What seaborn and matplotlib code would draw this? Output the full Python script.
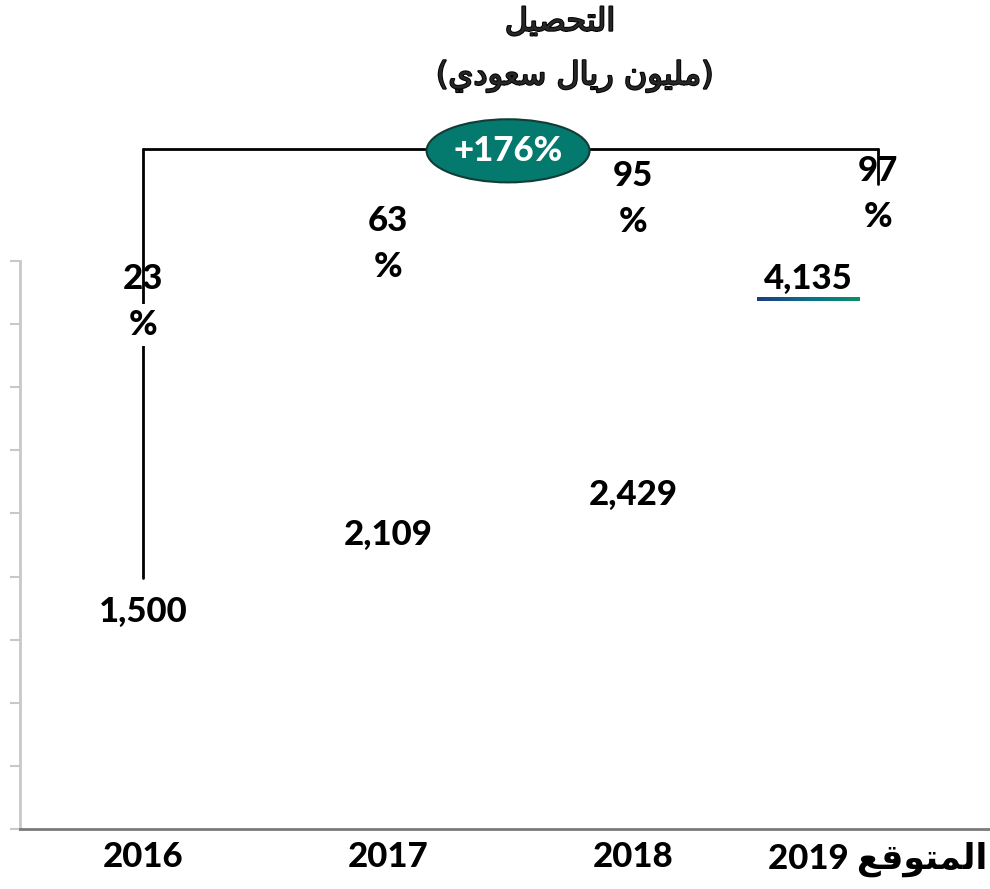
import numpy as np
import matplotlib
matplotlib.use("Agg")
import matplotlib.pyplot as plt
import matplotlib.patheffects as pe
from matplotlib.patches import Ellipse
import seaborn as sns

# data
years = ["2016", "2017", "2018", "2019"]
revenue = [1500, 2109, 2429, 4135]
growth_pct = [23, 63, 95, 97]
total_growth = "+176%"
title_ar = "التحصيل"
unit_ar = "مليون ريال سعودي"
forecast_ar = "المتوقع"

# layout tweaks (not data)
value_dx = [0, 0, 0, -0.285]
pct_y = [4175, 4635, 4992, 5032]

# --- minimal arabic shaping (presentation forms) since matplotlib has no bidi/shaping
FORMS = {
    'ا': ('\uFE8D', '\uFE8E', None, None),
    'ل': ('\uFEDD', '\uFEDE', '\uFEDF', '\uFEE0'),
    'ت': ('\uFE95', '\uFE96', '\uFE97', '\uFE98'),
    'ح': ('\uFEA1', '\uFEA2', '\uFEA3', '\uFEA4'),
    'ص': ('\uFEB9', '\uFEBA', '\uFEBB', '\uFEBC'),
    'ي': ('\uFEF1', '\uFEF2', '\uFEF3', '\uFEF4'),
    'م': ('\uFEE1', '\uFEE2', '\uFEE3', '\uFEE4'),
    'و': ('\uFEED', '\uFEEE', None, None),
    'ن': ('\uFEE5', '\uFEE6', '\uFEE7', '\uFEE8'),
    'ر': ('\uFEAD', '\uFEAE', None, None),
    'س': ('\uFEB1', '\uFEB2', '\uFEB3', '\uFEB4'),
    'ع': ('\uFEC9', '\uFECA', '\uFECB', '\uFECC'),
    'د': ('\uFEA9', '\uFEAA', None, None),
    'ق': ('\uFED5', '\uFED6', '\uFED7', '\uFED8'),
}


def rtl(s):
    out = []
    for i, ch in enumerate(s):
        if ch not in FORMS:
            out.append(ch)
            continue
        prev = s[i - 1] if i > 0 else None
        nxt = s[i + 1] if i + 1 < len(s) else None
        join_prev = prev in FORMS and FORMS[prev][2] is not None
        join_next = nxt in FORMS and FORMS[ch][2] is not None
        iso, fin, ini, med = FORMS[ch]
        if join_prev and join_next:
            out.append(med)
        elif join_prev:
            out.append(fin)
        elif join_next:
            out.append(ini)
        else:
            out.append(iso)
    return ''.join(reversed(out))


sns.set_theme(style="white")
plt.rcParams['font.family'] = ['Lato', 'DejaVu Sans']
FS = 25

fig = plt.figure(figsize=(9.9, 8.89), dpi=100)
ax = fig.add_axes([0.0202, 0.0675, 0.9798, 0.6389])

sns.barplot(x=years, y=revenue, color="white", ax=ax, width=0.42)

ax.set_xlim(-0.502, 3.457)
ax.set_ylim(0, 4500)
ax.set_yticks(np.arange(0, 4501, 500))
ax.set_yticklabels([])
ax.set_xlabel("")
ax.set_ylabel("")
ax.tick_params(axis="y", direction="out", length=7, width=1.5, color="#c8c8c8", left=True)
ax.tick_params(axis="x", length=0, pad=9)

xt_labels = years[:3] + [years[3] + " " + rtl(forecast_ar)]
ax.set_xticks(range(len(years)))
ax.set_xticklabels(xt_labels, fontsize=FS, fontweight="black", color="black")

for s in ["top", "right"]:
    ax.spines[s].set_visible(False)
ax.spines["left"].set_color("#c8c8c8")
ax.spines["left"].set_linewidth(2)
ax.spines["bottom"].set_color("#7a7a7a")
ax.spines["bottom"].set_linewidth(2)

# value labels
for i, v in enumerate(revenue):
    ax.text(i + value_dx[i], v + 220, f"{v:,}", ha="center", va="center",
            fontsize=FS, fontweight="black", color="black")

# gradient top edge on forecast bar
grad = np.linspace(0, 1, 200).reshape(1, -1)
cmap = matplotlib.colors.LinearSegmentedColormap.from_list("g", ["#1f3b7e", "#0b6f8a", "#0a8f6c"])
xc = 3 + value_dx[3]
ax.imshow(grad, cmap=cmap, aspect="auto", extent=(xc - 0.21, xc + 0.21, revenue[3] + 50, revenue[3] + 80),
          zorder=3, clip_on=False)
ax.set_xlim(-0.502, 3.457)
ax.set_ylim(0, 4500)

# bracket
top_y = 5389
ax.plot([0, 0], [1992, top_y], color="black", lw=2, clip_on=False, zorder=1)
ax.plot([0, 3], [top_y, top_y], color="black", lw=2, clip_on=False, zorder=1)
ax.plot([3, 3], [top_y, 5111], color="black", lw=2, clip_on=False, zorder=1)

# growth percentages
for i, p in enumerate(growth_pct):
    ax.text(i, pct_y[i] + 182, f"{p}", ha="center", va="center",
            fontsize=FS, fontweight="black", color="black", zorder=4, clip_on=False)
    ax.text(i, pct_y[i] - 182, "%", ha="center", va="center",
            fontsize=FS, fontweight="black", color="black", zorder=4, clip_on=False,
            bbox=dict(boxstyle="square,pad=0.15", fc="white", ec="none"))

# ellipse
ell = Ellipse((1.49, 5373), 0.665, 500, facecolor="#047a6e", edgecolor="#123c36",
              lw=1.5, clip_on=False, zorder=5)
ax.add_patch(ell)
ax.text(1.49, 5373, total_growth, ha="center", va="center", fontsize=FS,
        fontweight="black", color="white", zorder=6, clip_on=False)

# title (arabic glyphs only exist in regular weight, thicken with a stroke)
thick = [pe.withStroke(linewidth=1.4, foreground="black")]
fig.text(0.566, 0.975, rtl(title_ar), ha="center", va="center", fontsize=23,
         family=["DejaVu Sans"], path_effects=thick)
fig.text(0.581, 0.914, "(" + rtl(unit_ar) + ")", ha="center", va="center", fontsize=23,
         family=["DejaVu Sans"], path_effects=thick)

fig.savefig("out.png", dpi=100, facecolor="white")
